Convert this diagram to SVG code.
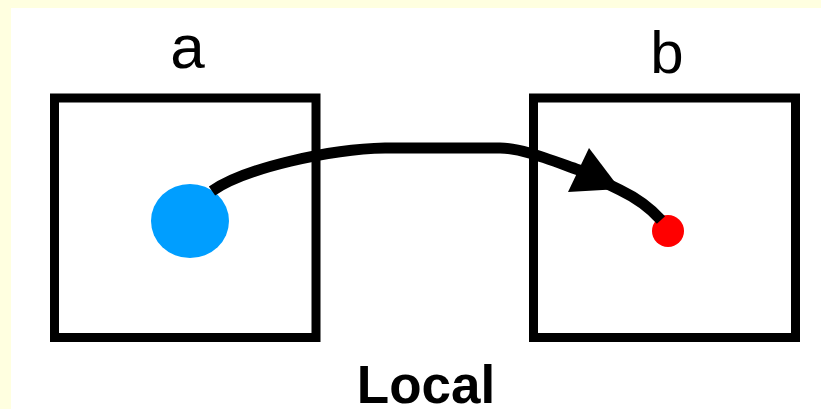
<svg xmlns="http://www.w3.org/2000/svg" width="821" height="409" viewBox="0 0 821 409">
  <style>
    .frame { fill: #ffffff; stroke: #000000; stroke-width: 9; }
    .label { font-family: "Liberation Sans", Arial, sans-serif; fill: #000000; text-anchor: middle; }
    .link { fill: none; stroke: #000000; stroke-width: 11; stroke-linejoin: round; }
  </style>

  <!-- page background with a pale margin at the top and left -->
  <rect x="0" y="0" width="821" height="409" fill="#ffffe0"/>
  <rect x="11" y="8" width="810" height="401" fill="#ffffff"/>

  <g id="node-a">
    <rect class="frame" x="54.5" y="98" width="261.5" height="239.5"/>
    <text class="label" x="187.5" y="68" font-size="62">a</text>
    <ellipse cx="190" cy="221" rx="39" ry="37" fill="#009eff"/>
  </g>

  <g id="node-b">
    <rect class="frame" x="533.5" y="98" width="262" height="239.5"/>
    <text class="label" x="667" y="73" font-size="60">b</text>
    <circle cx="668" cy="231" r="16" fill="#ff0000"/>
  </g>

  <g id="connectors">
    <path class="link" d="M212,191 C245,168 330,149 385,148 L500,148 C520,148 545,158 579,170 L620,190 Q645,202 661,220"/>
    <polygon points="589,148 568,192 620,189" fill="#000000"/>
  </g>

  <text class="label" x="426" y="403" font-size="53" font-weight="bold">Local</text>
</svg>
